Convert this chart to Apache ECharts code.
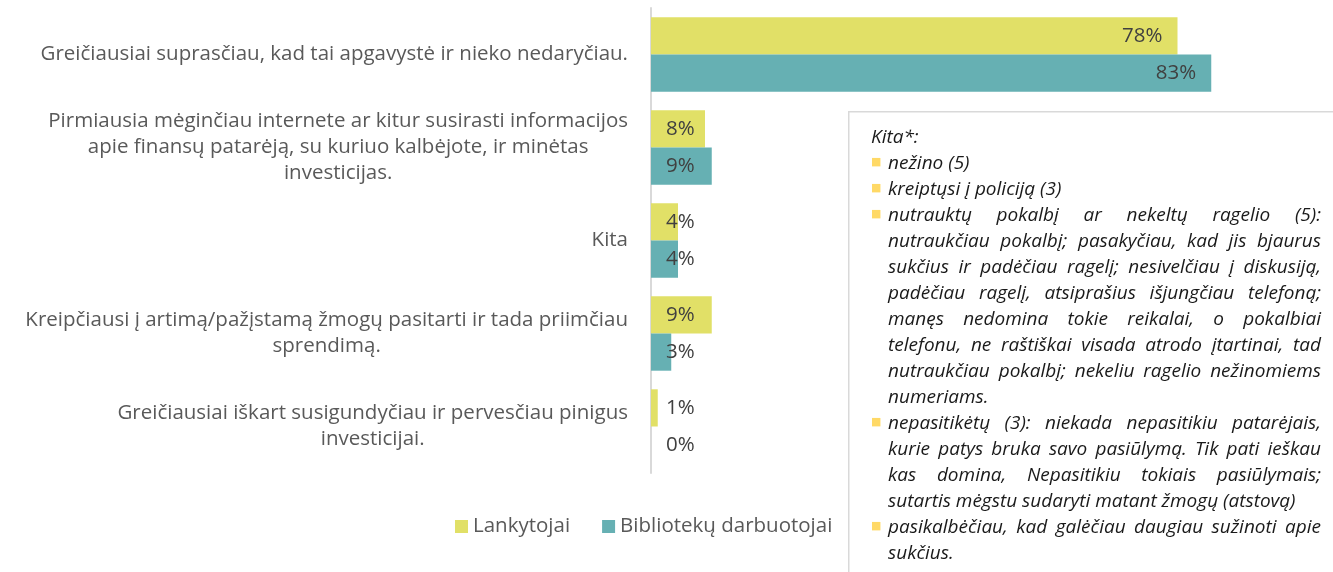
<!DOCTYPE html>
<html lang="lt">
<head>
    <meta charset="UTF-8">
    <title>Kita</title>
    <script src="https://cdn.jsdelivr.net/npm/echarts@6/dist/echarts.min.js"></script>
    <style>
        html, body { margin: 0; padding: 0; background: #fff; }
    </style>
</head>
<body>

<div id="wrap" style="width: 1333px; height: 572px;"></div>

<script>
    // duomenys
    var categories = [
        'Greičiausiai suprasčiau, kad tai apgavystė ir nieko nedaryčiau.',
        'Pirmiausia mėginčiau internete ar kitur susirasti informacijos\napie finansų patarėją, su kuriuo kalbėjote, ir minėtas\ninvesticijas.',
        'Kita',
        'Kreipčiausi į artimą/pažįstamą žmogų pasitarti ir tada priimčiau\nsprendimą.',
        'Greičiausiai iškart susigundyčiau ir pervesčiau pinigus\ninvesticijai.'
    ];
    var lankytojai = [78, 8, 4, 9, 1];
    var darbuotojai = [83, 9, 4, 3, 0];
    var seriesNames = ['Lankytojai', 'Bibliotekų darbuotojai'];

    var noteTitle = 'Kita*:';
    // kiekvienas punktas - jau suskaidytos eilutės (paskutinė nelygiuojama)
    var noteItems = [
        ['nežino (5)'],
        ['kreiptųsi į policiją (3)'],
        ['nutrauktų pokalbį ar nekeltų ragelio (5):',
         'nutraukčiau pokalbį; pasakyčiau, kad jis bjaurus',
         'sukčius ir padėčiau ragelį; nesivelčiau į diskusiją,',
         'padėčiau ragelį, atsiprašius išjungčiau telefoną;',
         'manęs nedomina tokie reikalai, o pokalbiai',
         'telefonu, ne raštiškai visada atrodo įtartinai, tad',
         'nutraukčiau pokalbį; nekeliu ragelio nežinomiems',
         'numeriams.'],
        ['nepasitikėtų (3): niekada nepasitikiu patarėjais,',
         'kurie patys bruka savo pasiūlymą. Tik pati ieškau',
         'kas domina, Nepasitikiu tokiais pasiūlymais;',
         'sutartis mėgstu sudaryti matant žmogų (atstovą)'],
        ['pasikalbėčiau, kad galėčiau daugiau sužinoti apie',
         'sukčius.']
    ];

    var FONT = '"Open Sans", sans-serif';
    var LABEL_SIZE = 20.5;
    var NOTE_SIZE = 19;
    var NOTE_WIDTH = 433;

    function barData(values) {
        return values.map(function (v) {
            return {
                value: v,
                label: v > 20
                    ? { position: 'insideRight', distance: 15 }
                    : { position: 'insideLeft', distance: 15 }
            };
        });
    }

    // abipusis lygiavimas: tarpai tarp žodžių kaip atskiri rich elementai
    var ctx = document.createElement('canvas').getContext('2d');
    ctx.font = 'italic ' + NOTE_SIZE + 'px "Open Sans"';
    var noteRich = {
        h: { fontStyle: 'italic', fontSize: NOTE_SIZE, lineHeight: 26, fontFamily: FONT, fill: '#1a1a1a' },
        b: { width: 17, fontSize: 11, lineHeight: 26, fontFamily: 'DejaVu Sans', fill: '#ffd966', padding: [0, 0, 3, 0] },
        s: { width: 17, lineHeight: 26, fontSize: NOTE_SIZE },
        t: { fontStyle: 'italic', fontSize: NOTE_SIZE, lineHeight: 26, fontFamily: FONT, fill: '#1a1a1a' }
    };
    var gapN = 0;
    function justify(line) {
        var words = line.split(' ');
        if (words.length < 2) return '{t|' + line + '}';
        var sum = 0;
        words.forEach(function (w) { sum += ctx.measureText(w).width; });
        var gap = Math.max(3, (NOTE_WIDTH - sum) / (words.length - 1));
        var key = 'g' + (gapN++);
        noteRich[key] = { width: gap, fontSize: NOTE_SIZE, lineHeight: 26 };
        return words.map(function (w) { return '{t|' + w + '}'; }).join('{' + key + '| }');
    }

    var noteLines = ['{h|' + noteTitle + '}'];
    noteItems.forEach(function (item) {
        item.forEach(function (line, i) {
            var last = i === item.length - 1;
            noteLines.push((i === 0 ? '{b|■}' : '{s| }') + (last ? '{t|' + line + '}' : justify(line)));
        });
    });

    var myChart = echarts.init(document.getElementById('wrap'));

    var option = {
        animation: false,
        textStyle: { fontFamily: FONT },
        grid: {
            left: 651,
            top: 8,
            width: 675,
            height: 465
        },
        legend: {
            data: seriesNames,
            bottom: 30,
            left: 450,
            itemWidth: 13,
            itemHeight: 13,
            itemGap: 32,
            icon: 'rect',
            textStyle: {
                fontFamily: FONT,
                fontSize: LABEL_SIZE,
                color: '#595959'
            }
        },
        xAxis: {
            type: 'value',
            min: 0,
            max: 100,
            show: false
        },
        yAxis: {
            type: 'category',
            inverse: true,
            data: categories,
            axisLine: { lineStyle: { color: '#d9d9d9', width: 2 } },
            axisTick: { show: false },
            splitLine: { show: false },
            axisLabel: {
                margin: 23,
                align: 'right',
                formatter: function (value) {
                    return value.split('\n').map(function (l) {
                        return '{c|' + l + '}';
                    }).join('\n');
                },
                rich: {
                    c: {
                        align: 'center',
                        fontFamily: FONT,
                        fontSize: LABEL_SIZE,
                        lineHeight: 26,
                        color: '#595959'
                    }
                }
            }
        },
        series: [{
            name: seriesNames[0],
            type: 'bar',
            data: barData(lankytojai),
            barGap: 0,
            barCategoryGap: '20%',
            itemStyle: { color: '#e1e067' },
            label: {
                show: true,
                formatter: '{c}%',
                fontFamily: FONT,
                fontSize: LABEL_SIZE,
                color: '#404040'
            }
        }, {
            name: seriesNames[1],
            type: 'bar',
            data: barData(darbuotojai),
            barGap: 0,
            barCategoryGap: '20%',
            itemStyle: { color: '#66b0b3' },
            label: {
                show: true,
                formatter: '{c}%',
                fontFamily: FONT,
                fontSize: LABEL_SIZE,
                color: '#404040'
            }
        }],
        graphic: [{
            type: 'rect',
            left: 848,
            top: 111,
            shape: { width: 500, height: 480 },
            style: { fill: '#fff', stroke: '#d9d9d9', lineWidth: 1.5 },
            z: 10
        }, {
            type: 'text',
            left: 871,
            top: 125,
            z: 11,
            style: {
                text: noteLines.join('\n'),
                fontFamily: FONT,
                fontStyle: 'italic',
                fontSize: NOTE_SIZE,
                lineHeight: 26,
                fill: '#1a1a1a',
                rich: noteRich
            }
        }]
    };

    myChart.setOption(option);
</script>
</body>
</html>
